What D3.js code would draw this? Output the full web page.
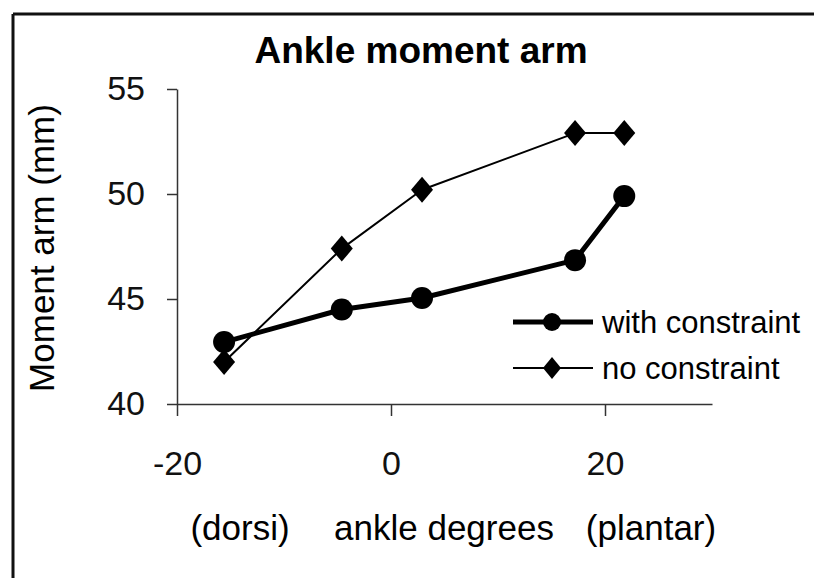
<!DOCTYPE html>
<html>
<head>
<meta charset="utf-8">
<title>Ankle moment arm</title>
<script src="https://cdn.jsdelivr.net/npm/d3@7"></script>
<style>
  body { margin: 0; background: #fff; }
  svg { display: block; font-family: "Liberation Sans", Arial, sans-serif; }
  .axis path, .axis line { stroke: #333; stroke-width: 1.5; }
  .axis text { fill: #111; font-size: 34px; font-family: "Liberation Sans", Arial, sans-serif; }
</style>
</head>
<body>
<svg width="814" height="578"></svg>
<script>
// ankle angle (degrees), same for both runs
const angles = [-15.6, -4.6, 2.9, 17.2, 21.8];
const withConstraint = [42.95, 44.5, 45.05, 46.85, 49.9];
const noConstraint = [42.0, 47.4, 50.2, 52.9, 52.9];
const xTicks = [-20, 0, 20];
const yTicks = [40, 45, 50, 55];

const svg = d3.select("svg");

// frame (top and left edges only visible)
svg.append("line").attr("x1", 13).attr("y1", 14).attr("x2", 814).attr("y2", 14)
  .attr("stroke", "#111").attr("stroke-width", 3);
svg.append("line").attr("x1", 13).attr("y1", 14).attr("x2", 13).attr("y2", 578)
  .attr("stroke", "#111").attr("stroke-width", 3);

const x = d3.scaleLinear().domain([-20, 30]).range([177, 712]);
const y = d3.scaleLinear().domain([40, 55]).range([404, 89]);

svg.append("g").attr("class", "axis")
  .attr("transform", "translate(0,404)")
  .call(d3.axisBottom(x).tickValues(xTicks).tickFormat(d => String(d))
    .tickSize(12).tickSizeOuter(0).tickPadding(35));

svg.append("g").attr("class", "axis")
  .attr("transform", "translate(177,0)")
  .call(d3.axisLeft(y).tickValues(yTicks).tickFormat(d => String(d))
    .tickSize(10).tickSizeOuter(0).tickPadding(22));

// title and axis titles
svg.append("text").attr("x", 421).attr("y", 63).attr("text-anchor", "middle")
  .style("font-size", "37px").style("font-weight", "bold").text("Ankle moment arm");

svg.append("text").attr("transform", "translate(54,248) rotate(-90)")
  .attr("text-anchor", "middle").style("font-size", "35px").text("Moment arm (mm)");

const xlab = [["(dorsi)", 240], ["ankle degrees", 444], ["(plantar)", 651]];
svg.selectAll(".xlab").data(xlab).enter().append("text")
  .attr("class", "xlab")
  .attr("x", d => d[1]).attr("y", 540).attr("text-anchor", "middle")
  .style("font-size", "35px").text(d => d[0]);

// series
const series = [
  { name: "with constraint", values: withConstraint, width: 5, marker: "circle" },
  { name: "no constraint", values: noConstraint, width: 2, marker: "diamond" }
];

const line = d3.line().x(d => x(d[0])).y(d => y(d[1]));
const diamond = (cx, cy, w, h) => `M${cx},${cy - h}L${cx + w},${cy}L${cx},${cy + h}L${cx - w},${cy}Z`;

series.forEach(s => {
  const pts = angles.map((a, i) => [a, s.values[i]]);
  svg.append("path").datum(pts).attr("d", line)
    .attr("fill", "none").attr("stroke", "#000").attr("stroke-width", s.width)
    .attr("stroke-linejoin", "round");
  if (s.marker === "circle") {
    svg.selectAll(null).data(pts).enter().append("circle")
      .attr("cx", d => x(d[0])).attr("cy", d => y(d[1])).attr("r", 11).attr("fill", "#000");
  } else {
    svg.selectAll(null).data(pts).enter().append("path")
      .attr("d", d => diamond(x(d[0]), y(d[1]), 11, 13)).attr("fill", "#000");
  }
});

// legend
const legend = svg.append("g");
series.forEach((s, i) => {
  const ly = 322 + i * 46;
  legend.append("line").attr("x1", 513).attr("x2", 593).attr("y1", ly).attr("y2", ly)
    .attr("stroke", "#000").attr("stroke-width", s.width);
  if (s.marker === "circle") {
    legend.append("circle").attr("cx", 552).attr("cy", ly).attr("r", 9).attr("fill", "#000");
  } else {
    legend.append("path").attr("d", diamond(552, ly, 9, 11)).attr("fill", "#000");
  }
  legend.append("text").attr("x", 602).attr("y", ly + 11)
    .style("font-size", "31px").text(s.name);
});
</script>
</body>
</html>
